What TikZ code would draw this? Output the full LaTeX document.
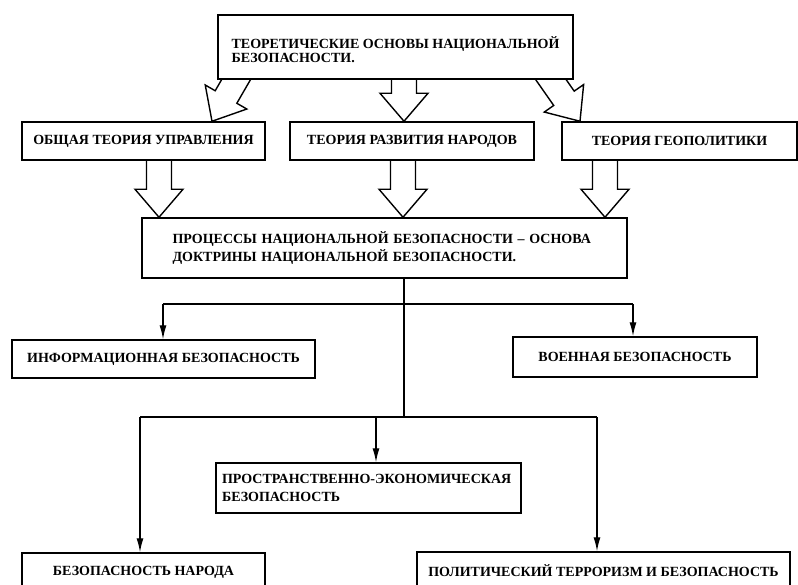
\documentclass[tikz,border=0pt]{standalone}
\usepackage{fontspec}
\setmainfont{Liberation Serif}
\usetikzlibrary{calc,arrows.meta,backgrounds}
\tikzset{
  box/.style={draw, fill=white, line width=1.5pt, inner sep=0pt, align=center,
    font=\bfseries\fontsize{14}{14}\selectfont},
  box2/.style={box, align=left, font=\bfseries\fontsize{14}{17.5}\selectfont},
  thin/.style={line width=1.3pt},
  arr/.style={thin, -{Latex[length=14pt,width=7pt]}},
  barrow/.style={line width=1.4pt, line join=miter}
}
\newcommand\blockarr[2]{%
  \coordinate (hb) at ($(#2)!28pt!(#1)$);
  \draw[barrow] ($(#1)!12.5pt!90:(#2)$) -- ($(hb)!12.5pt!90:(#2)$)
    -- ($(hb)!24pt!90:(#2)$) -- (#2) -- ($(hb)!24pt!-90:(#2)$)
    -- ($(hb)!12.5pt!-90:(#2)$) -- ($(#1)!12.5pt!-90:(#2)$);
}
\begin{document}
\begin{tikzpicture}[x=1pt,y=-1pt]
\useasboundingbox (0,0) rectangle (798,584);
\clip (0,0) rectangle (798,584);

% boxes
\node[box2, minimum width=355, minimum height=64,
  font=\bfseries\fontsize{14}{14}\selectfont] (top) at (395.5,47)
  {\rule{0pt}{18pt}ТЕОРЕТИЧЕСКИЕ ОСНОВЫ НАЦИОНАЛЬНОЙ\\БЕЗОПАСНОСТИ.};
\node[box, minimum width=243, minimum height=38] (ra) at (143.5,141)
  {ОБЩАЯ ТЕОРИЯ УПРАВЛЕНИЯ};
\node[box, minimum width=244, minimum height=38] (rb) at (412,141)
  {ТЕОРИЯ РАЗВИТИЯ НАРОДОВ};
\node[box, minimum width=235, minimum height=38] (rc) at (679.5,141)
  {ТЕОРИЯ ГЕОПОЛИТИКИ};
\node[box2, minimum width=485, minimum height=60, text width=424pt] (proc) at (384.5,248)
  {ПРОЦЕССЫ НАЦИОНАЛЬНОЙ БЕЗОПАСНОСТИ – ОСНОВА\\ДОКТРИНЫ НАЦИОНАЛЬНОЙ БЕЗОПАСНОСТИ.};
\node[box, minimum width=303, minimum height=38] (info) at (163.5,359)
  {ИНФОРМАЦИОННАЯ БЕЗОПАСНОСТЬ};
\node[box, minimum width=244, minimum height=40] (mil) at (635,357)
  {ВОЕННАЯ БЕЗОПАСНОСТЬ};
\node[box2, minimum width=305, minimum height=50, text width=293pt] (space) at (368.5,488)
  {ПРОСТРАНСТВЕННО-ЭКОНОМИЧЕСКАЯ\\БЕЗОПАСНОСТЬ};
\node[box, minimum width=243, minimum height=38] (people) at (143.5,572)
  {БЕЗОПАСНОСТЬ НАРОДА};
\node[box, minimum width=373, minimum height=38] (terror) at (603.5,571)
  {ПОЛИТИЧЕСКИЙ ТЕРРОРИЗМ И БЕЗОПАСНОСТЬ};

% hollow block arrows (behind the boxes)
\begin{scope}[on background layer]
\coordinate (t1) at (236,0 |- top.south);
\coordinate (t2) at (404,0 |- top.south);
\coordinate (t3) at (551,0 |- top.south);
\coordinate (a1) at (212,0 |- ra.north);
\coordinate (b1) at (404,0 |- rb.north);
\coordinate (c1) at (580,0 |- rc.north);
\coordinate (t1s) at ($(t1)!-0.3!(a1)$);
\coordinate (t3s) at ($(t3)!-0.3!(c1)$);
\blockarr{t1s}{a1}
\blockarr{t2}{b1}
\blockarr{t3s}{c1}
\coordinate (a2) at (159,0 |- ra.south);
\coordinate (b2) at (403,0 |- rb.south);
\coordinate (c2) at (605,0 |- rc.south);
\coordinate (pa) at (159,0 |- proc.north);
\coordinate (pb) at (403,0 |- proc.north);
\coordinate (pc) at (605,0 |- proc.north);
\blockarr{a2}{pa}
\blockarr{b2}{pb}
\blockarr{c2}{pc}
\end{scope}

% thin connectors
\coordinate (ps) at (404,0 |- proc.south);
\coordinate (j1) at (404,304);
\coordinate (j2) at (404,417);
\coordinate (ji) at (163,304);
\coordinate (jm) at (633,304);
\coordinate (k1) at (140,417);
\coordinate (k2) at (376,417);
\coordinate (k3) at (597,417);
\draw[thin] (ps) -- (j2);
\draw[thin] (ji) -- (jm);
\draw[arr] (ji) -- (ji |- info.north);
\draw[arr] (jm) -- (jm |- mil.north);
\draw[thin] (k1) -- (k3);
\draw[arr] (k1) -- (k1 |- people.north);
\draw[arr] (k2) -- (k2 |- space.north);
\draw[arr] (k3) -- (k3 |- terror.north);
\end{tikzpicture}
\end{document}
